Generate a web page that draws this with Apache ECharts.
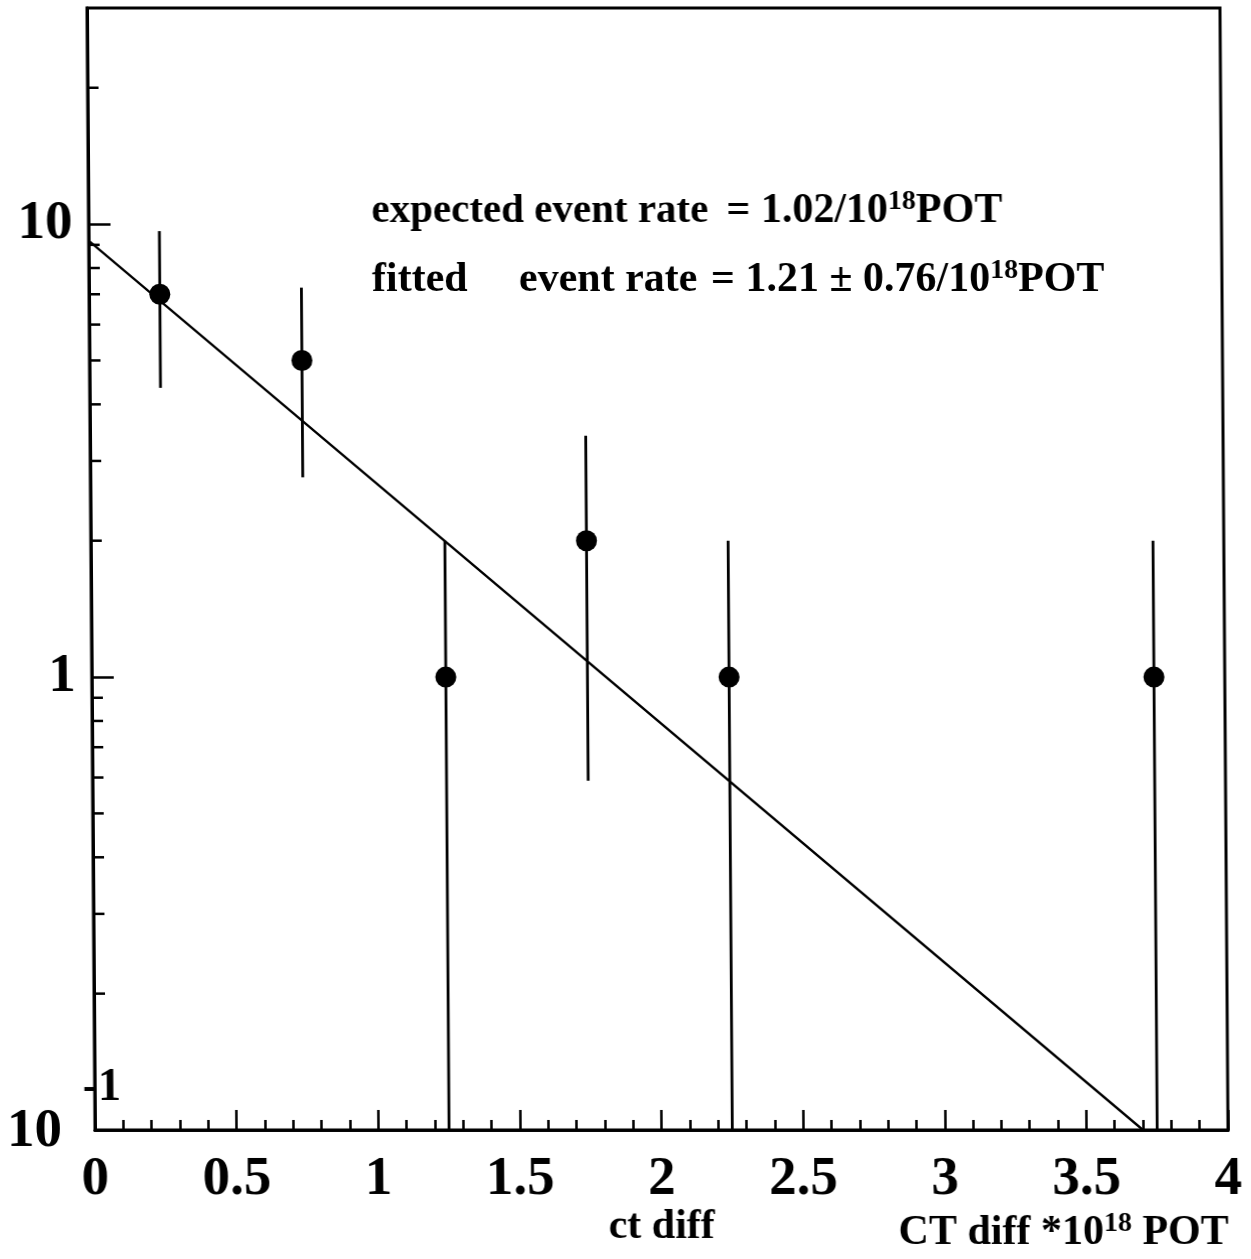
<!DOCTYPE html>
<html>
<head>
<meta charset="utf-8">
<script src="https://cdn.jsdelivr.net/npm/echarts@6/dist/echarts.min.js"></script>
<style>
  html, body { margin: 0; padding: 0; background: #fff; }
  #chart {
    width: 1251px; height: 1259px;
    transform: skewX(0.41deg);
    transform-origin: 0 1130px;
  }
</style>
</head>
<body>
<div id="chart"></div>
<script>
// Measured counts per ct-diff bin (bin centres)
const binCentres = [0.25, 0.75, 1.25, 1.75, 2.25, 3.75];
const counts     = [7, 5, 1, 2, 1, 1];
// Error bar extents (lower, upper)
const errLow  = [4.35, 2.76, 0, 0.59, 0, 0];
const errHigh = [9.65, 7.24, 2, 3.41, 2, 2];
// Exponential fit, end points of the straight line on the log scale
const fitX = [0, 3.70];
const fitY = [9.2, 0.1];
// Axis ranges and ticks
const xMin = 0, xMax = 4, xStep = 0.5;
const yMin = 0.1, yMax = 30;
const yMinorTicks = [0.2, 0.3, 0.4, 0.5, 0.6, 0.7, 0.8, 0.9, 2, 3, 4, 5, 6, 7, 8, 9, 20];

const serif = '"Liberation Serif", "Times New Roman", serif';

const chart = echarts.init(document.getElementById('chart'), null, { renderer: 'canvas' });

const points = binCentres.map((x, i) => [x, counts[i]]);
const bars = binCentres.map((x, i) => [x, errLow[i], errHigh[i]]);
const fitLine = fitX.map((x, i) => [x, fitY[i]]);

const option = {
  animation: false,
  backgroundColor: '#fff',
  grid: {
    left: 95, right: 23, top: 8, bottom: 129,
    show: true, borderColor: '#000', borderWidth: 3, backgroundColor: 'transparent'
  },
  xAxis: {
    type: 'value', min: xMin, max: xMax, interval: xStep,
    axisLine: { show: true, lineStyle: { color: '#000', width: 3 } },
    axisTick: { show: true, inside: true, length: 20, lineStyle: { color: '#000', width: 2.5 } },
    minorTick: { show: true, splitNumber: 5, length: 10, lineStyle: { color: '#000', width: 2.5 } },
    splitLine: { show: false },
    axisLabel: {
      margin: 22, color: '#000', fontFamily: serif, fontWeight: 'bold', fontSize: 55,
      formatter: v => String(Math.round(v * 10) / 10)
    }
  },
  yAxis: {
    type: 'log', logBase: 10, min: yMin, max: yMax,
    axisLine: { show: true, lineStyle: { color: '#000', width: 3 } },
    axisTick: { show: true, inside: true, length: 22, lineStyle: { color: '#000', width: 2.5 } },
    splitLine: { show: false },
    axisLabel: {
      margin: 16, color: '#000', fontFamily: serif, fontWeight: 'bold', fontSize: 55,
      showMaxLabel: false,
      formatter: v => {
        if (Math.abs(v - 10) < 1e-6) return '10';
        if (Math.abs(v - 1) < 1e-6) return '1';
        return '';
      }
    }
  },
  series: [
    {
      // minor log ticks on the left axis
      type: 'custom',
      silent: true,
      data: yMinorTicks.map(v => [xMin, v]),
      encode: { x: 0, y: 1 },
      renderItem: (params, api) => {
        const p = api.coord([api.value(0), api.value(1)]);
        return {
          type: 'line',
          shape: { x1: p[0], y1: p[1], x2: p[0] + 11, y2: p[1] },
          style: { stroke: '#000', lineWidth: 2.5 }
        };
      }
    },
    {
      // vertical error bars
      type: 'custom',
      silent: true,
      clip: true,
      data: bars,
      encode: { x: 0, y: 2 },
      renderItem: (params, api) => {
        const x = api.value(0);
        const lo = Math.max(api.value(1), yMin);
        const hi = api.value(2);
        const a = api.coord([x, lo]);
        const b = api.coord([x, hi]);
        return {
          type: 'line',
          shape: { x1: a[0], y1: a[1], x2: b[0], y2: b[1] },
          style: { stroke: '#000', lineWidth: 2.8 }
        };
      }
    },
    {
      type: 'line',
      data: fitLine,
      showSymbol: false,
      symbol: 'none',
      clip: true,
      lineStyle: { color: '#000', width: 2.3 },
      silent: true
    },
    {
      type: 'scatter',
      data: points,
      symbol: 'circle',
      symbolSize: 21,
      itemStyle: { color: '#000', opacity: 1 },
      silent: true
    }
  ]
};

chart.setOption(option);

// Texts drawn relative to the plotted axes
const origin = chart.convertToPixel({ xAxisIndex: 0, yAxisIndex: 0 }, [xMin, yMin]);
const supRich = {
  n: { fontFamily: serif, fontWeight: 'bold', fontSize: 42, fill: '#000', lineHeight: 46 },
  s: { fontFamily: serif, fontWeight: 'bold', fontSize: 28, fill: '#000', verticalAlign: 'top', lineHeight: 46 }
};
const txt = (x, y, text, align, extra) => Object.assign({
  type: 'text', x, y, silent: true,
  style: Object.assign({
    text, textAlign: align || 'left', textVerticalAlign: 'middle',
    fontFamily: serif, fontWeight: 'bold', fontSize: 42, fill: '#000', rich: supRich
  }, extra || {})
});

chart.setOption({
  graphic: [
    // 10^-1 label at the foot of the y axis
    txt(origin[0] - 33, origin[1] + 2, '10', 'right', { fontSize: 55 }),
    txt(origin[0] - 12, origin[1] - 42, '-1', 'left', { fontSize: 46 }),
    // fit summary
    txt(378, 211, 'expected event rate', 'left', { fontSize: 41 }),
    txt(733, 211, '{n|= 1.02/10}{s|18}{n|POT}', 'left'),
    txt(378, 280, 'fitted', 'left'),
    txt(525, 280, 'event rate', 'left'),
    txt(717, 280, '{n|= 1.21 \u00b1 0.76/10}{s|18}{n|POT}', 'left'),
    // axis titles
    txt(661, 1227, 'ct diff', 'center'),
    txt(1228, 1233, '{n|CT diff *10}{s|18}{n| POT}', 'right')
  ]
});
</script>
</body>
</html>
